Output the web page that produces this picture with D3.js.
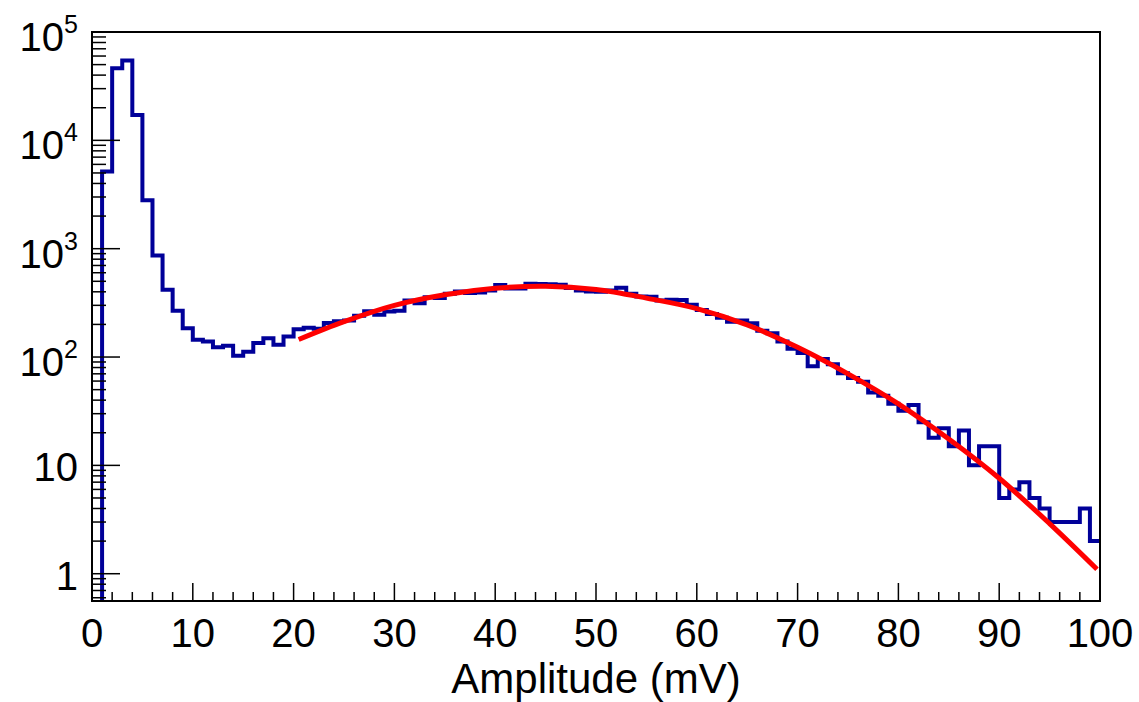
<!DOCTYPE html>
<html>
<head>
<meta charset="utf-8">
<script src="https://cdn.jsdelivr.net/npm/d3@7"></script>
<style>
    body { margin: 0; background: #fff; }
    text { font-family: "Liberation Sans", Arial, sans-serif; fill: #000; }
</style>
</head>
<body>
<div id="chart"></div>
<script>
// Histogram: 100 bins of 1 mV, counts (bin 0 is empty)
const binEdges = d3.range(0, 101, 1);
const counts = [
    0, 5150, 46400, 54700, 17100, 2800, 867, 417, 268, 184,
    144, 139, 123, 127, 103, 112, 135, 149, 130, 155,
    180, 186, 182, 206, 214, 217, 241, 265, 245, 263,
    268, 332, 314, 357, 350, 383, 403, 389, 394, 411,
    462, 430, 428, 474, 472, 470, 465, 433, 411, 403,
    400, 411, 436, 383, 362, 360, 332, 337, 336, 304,
    272, 250, 230, 212, 217, 205, 175, 166, 139, 119,
    109, 82, 96, 86, 71, 64, 59, 47, 44, 37,
    32, 36, 25, 18, 22, 15, 21, 10, 15, 15,
    5, 6, 7, 5, 4, 3, 3, 3, 4, 2
];

// Fit curve, sampled by eye along the red line
const fitX = [20.5, 25, 30, 35, 40, 45, 50, 55, 60, 65, 70, 75, 80, 85, 90, 95, 99.7];
const fitY = [145, 212, 300, 376, 431, 450, 420, 350, 280, 198, 123, 70, 37, 17.5, 7.6, 2.9, 1.1];

// Axis ticks
const xMajor = d3.range(0, 101, 10);
const xMinor = d3.range(0, 101, 2);
const yDecades = [0, 1, 2, 3, 4, 5];
const yLabels = ["1", "10", "10^2", "10^3", "10^4", "10^5"];

const width = 1139;
const height = 702;
const frame = { left: 92, right: 1100, top: 32, bottom: 601 };

const svg = d3.select("#chart").append("svg")
    .attr("width", width)
    .attr("height", height);

svg.append("rect")
    .attr("width", width)
    .attr("height", height)
    .attr("fill", "#fff");

const x = d3.scaleLinear().domain([0, 100]).range([frame.left, frame.right]);
const y = d3.scaleLog().domain([0.56, 1e5]).range([frame.bottom, frame.top]);

// empty bins drop below the frame and get clipped
const yv = v => v > 0 ? y(v) : frame.bottom + 20;

svg.append("clipPath")
    .attr("id", "clip")
    .append("rect")
    .attr("x", frame.left)
    .attr("y", frame.top)
    .attr("width", frame.right - frame.left)
    .attr("height", frame.bottom - frame.top);

const plot = svg.append("g").attr("clip-path", "url(#clip)");

// step histogram
const histPts = counts.map((c, i) => [binEdges[i], c]);
histPts.push([100, counts[counts.length - 1]]);

plot.append("path")
    .datum(histPts)
    .attr("fill", "none")
    .attr("stroke", "#000099")
    .attr("stroke-width", 4)
    .attr("d", d3.line()
        .x(d => x(d[0]))
        .y(d => yv(d[1]))
        .curve(d3.curveStepAfter));

// fit
plot.append("path")
    .datum(fitX.map((v, i) => [v, fitY[i]]))
    .attr("fill", "none")
    .attr("stroke", "#ff0000")
    .attr("stroke-width", 5)
    .attr("d", d3.line()
        .x(d => x(d[0]))
        .y(d => y(d[1]))
        .curve(d3.curveCatmullRom));

// frame
svg.append("rect")
    .attr("x", frame.left)
    .attr("y", frame.top)
    .attr("width", frame.right - frame.left)
    .attr("height", frame.bottom - frame.top)
    .attr("fill", "none")
    .attr("stroke", "#000")
    .attr("stroke-width", 2);

// x ticks
const ticks = svg.append("g").attr("stroke", "#000").attr("stroke-width", 1.5);

ticks.selectAll(".xminor")
    .data(xMinor)
    .enter().append("line")
    .attr("x1", d => x(d)).attr("x2", d => x(d))
    .attr("y1", frame.bottom)
    .attr("y2", d => frame.bottom - (d % 10 === 0 ? 18 : 9));

// y ticks: majors at decades, minors at 2..9
const yMinor = [];
for (let e = -1; e <= 4; e++) {
    for (let m = 2; m <= 9; m++) {
        const v = m * Math.pow(10, e);
        if (v >= y.domain()[0] && v <= y.domain()[1]) yMinor.push(v);
    }
}

ticks.selectAll(".yminor")
    .data(yMinor)
    .enter().append("line")
    .attr("x1", frame.left).attr("x2", frame.left + 14)
    .attr("y1", d => y(d)).attr("y2", d => y(d));

ticks.selectAll(".ymajor")
    .data(yDecades)
    .enter().append("line")
    .attr("x1", frame.left).attr("x2", frame.left + 28)
    .attr("y1", d => y(Math.pow(10, d))).attr("y2", d => y(Math.pow(10, d)));

// x tick labels
svg.append("g")
    .selectAll("text")
    .data(xMajor)
    .enter().append("text")
    .attr("x", d => x(d))
    .attr("y", 647)
    .attr("text-anchor", "middle")
    .attr("font-size", 40)
    .text(d => d);

// y tick labels, with superscript exponents
const yl = svg.append("g")
    .selectAll("text")
    .data(yDecades)
    .enter().append("text")
    .attr("x", 78)
    .attr("text-anchor", "end")
    .attr("font-size", 40);

yl.each(function(d, i) {
    const t = d3.select(this);
    const yy = y(Math.pow(10, d));
    const parts = yLabels[i].split("^");
    if (parts.length === 1) {
        t.attr("y", yy + 16).text(parts[0]);
    } else {
        t.attr("y", yy + 19);
        t.append("tspan").text(parts[0]);
        t.append("tspan")
            .attr("font-size", 25)
            .attr("dy", -18)
            .text(parts[1]);
    }
});

// axis title
svg.append("text")
    .attr("x", (frame.left + frame.right) / 2)
    .attr("y", 693)
    .attr("text-anchor", "middle")
    .attr("font-size", 42)
    .text("Amplitude (mV)");
</script>
</body>
</html>
